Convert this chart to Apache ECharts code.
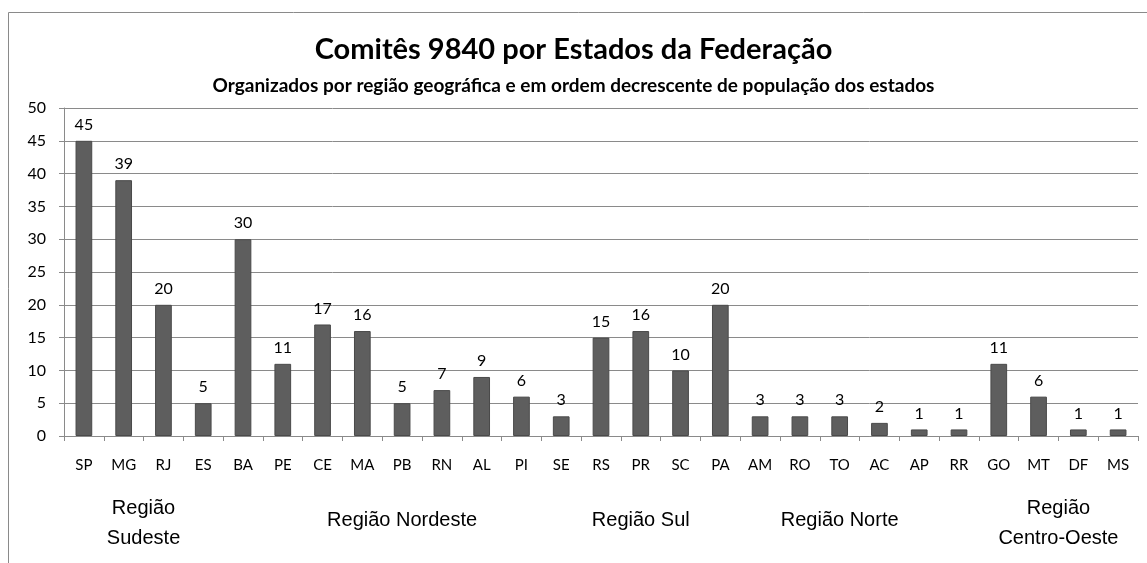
<!DOCTYPE html>
<html>
<head>
<meta charset="utf-8">
<script src="https://cdn.jsdelivr.net/npm/echarts@6/dist/echarts.min.js"></script>
<style>
  html, body { margin: 0; padding: 0; background: #fff; }
  #main { width: 1147px; height: 563px; }
</style>
</head>
<body>
<div id="main"></div>
<script>
// estados em ordem de região / população
var states = ["SP","MG","RJ","ES","BA","PE","CE","MA","PB","RN","AL","PI","SE","RS","PR","SC","PA","AM","RO","TO","AC","AP","RR","GO","MT","DF","MS"];
var comites = [45,39,20,5,30,11,17,16,5,7,9,6,3,15,16,10,20,3,3,3,2,1,1,11,6,1,1];
var yTicks = [0,5,10,15,20,25,30,35,40,45,50];

// regiões: nome e índices (primeiro, último) das categorias
var regionNames = ["Região\nSudeste", "Região Nordeste", "Região Sul", "Região Norte", "Região\nCentro-Oeste"];
var regionFirst = [0, 4, 13, 16, 23];
var regionLast  = [3, 12, 15, 22, 26];

var chart = echarts.init(document.getElementById("main"));

var option = {
  animation: false,
  title: [
    {
      text: "Comitês 9840 por Estados da Federação",
      left: "center",
      top: 30,
      textStyle: { fontFamily: "Lato", fontWeight: "bold", fontSize: 29, color: "#000" }
    },
    {
      text: "Organizados por região geográfica e em ordem decrescente de população dos estados",
      left: "center",
      top: 71,
      textStyle: { fontFamily: "Lato", fontWeight: "bold", fontSize: 19, color: "#000" }
    }
  ],
  grid: { left: 64, right: 9, top: 108, bottom: 127 },
  xAxis: {
    type: "category",
    data: states,
    axisLine: { lineStyle: { color: "#8a8a8a", width: 1 } },
    axisTick: { show: true, length: 5, alignWithLabel: false, lineStyle: { color: "#8a8a8a" } },
    axisLabel: { margin: 22, fontFamily: "Lato", fontSize: 15, color: "#000" }
  },
  yAxis: {
    type: "value",
    min: yTicks[0],
    max: yTicks[yTicks.length - 1],
    interval: yTicks[1] - yTicks[0],
    axisLine: { show: true, lineStyle: { color: "#8a8a8a" } },
    axisTick: { show: true, length: 5, lineStyle: { color: "#8a8a8a" } },
    axisLabel: { margin: 18, fontFamily: "Lato", fontSize: 16, color: "#000" },
    splitLine: { lineStyle: { color: "#8a8a8a", width: 1 } }
  },
  series: [{
    type: "bar",
    data: comites,
    barWidth: "42%",
    itemStyle: { color: "#5e5e5e", borderColor: "#4a4a4a", borderWidth: 1 },
    label: {
      show: true,
      position: "top",
      distance: 8,
      fontFamily: "Lato",
      fontSize: 16,
      color: "#000"
    }
  }]
};
chart.setOption(option);

// rótulos das regiões, centralizados nos grupos pelo eixo
function regionTexts() {
  var els = [];
  // moldura do gráfico
  els.push({
    type: "rect",
    shape: { x: 8.5, y: 12.5, width: 1300, height: 700 },
    style: { fill: null, stroke: "#8a8a8a", lineWidth: 1 },
    silent: true
  });
  for (var i = 0; i < regionNames.length; i++) {
    var a = chart.convertToPixel({ xAxisIndex: 0 }, regionFirst[i]);
    var b = chart.convertToPixel({ xAxisIndex: 0 }, regionLast[i]);
    var twoLines = regionNames[i].indexOf("\n") >= 0;
    els.push({
      type: "text",
      x: (a + b) / 2,
      y: twoLines ? 523 : 520,
      style: {
        text: regionNames[i],
        fontFamily: "Liberation Sans",
        fontSize: 20,
        lineHeight: 30,
        fill: "#000",
        align: "center",
        verticalAlign: "middle"
      },
      silent: true
    });
  }
  return els;
}
chart.setOption({ graphic: { elements: regionTexts() } });
</script>
</body>
</html>
